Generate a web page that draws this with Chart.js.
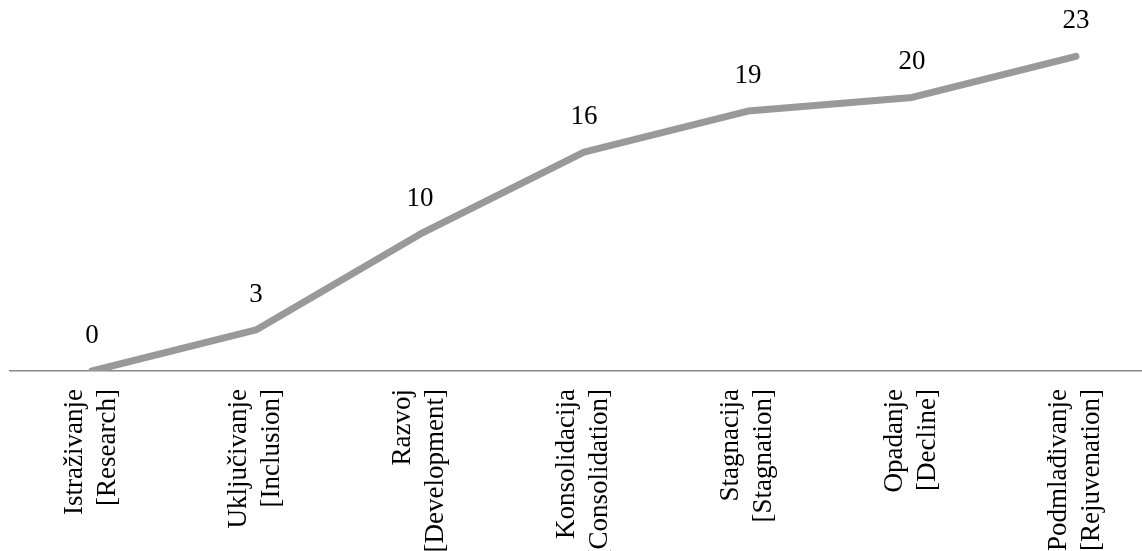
<!DOCTYPE html>
<html>
<head>
<meta charset="utf-8">
<script src="https://cdn.jsdelivr.net/npm/chart.js@4"></script>
<style>
  html, body { margin: 0; padding: 0; background: #fff; overflow: hidden; }
  #wrap { width: 1142px; height: 551px; overflow: hidden; }
</style>
</head>
<body>
<div id="wrap"><canvas id="faze" width="1160" height="551"></canvas></div>
<script>
// faze razvoja
const faze = [
  ["Istraživanje", "[Research]"],
  ["Uključivanje", "[Inclusion]"],
  ["Razvoj", "[Development]"],
  ["Konsolidacija", "[Consolidation]"],
  ["Stagnacija", "[Stagnation]"],
  ["Opadanje", "[Decline]"],
  ["Podmlađivanje", "[Rejuvenation]"]
];
const vrijednosti = [0, 3, 10, 16, 19, 20, 23];

const FONT = "'Liberation Serif', 'Times New Roman', serif";

// brojevi iznad tacaka
const oznake = {
  id: "oznake",
  afterDatasetsDraw(chart) {
    let ctx = chart.ctx;
    let meta = chart.getDatasetMeta(0);
    ctx.save();
    ctx.font = "27px " + FONT;
    ctx.fillStyle = "#000";
    ctx.textAlign = "center";
    ctx.textBaseline = "alphabetic";
    meta.data.forEach((p, i) => {
      ctx.fillText(String(vrijednosti[i]), p.x, p.y - 28);
    });
    ctx.restore();
  }
};

new Chart(document.getElementById("faze"), {
  type: "line",
  data: {
    labels: faze,
    datasets: [{
      data: vrijednosti,
      borderColor: "#999999",
      borderWidth: 7,
      borderCapStyle: "round",
      borderJoinStyle: "round",
      pointRadius: 0,
      tension: 0,
      fill: false
    }]
  },
  options: {
    responsive: false,
    animation: false,
    layout: { padding: { left: 10, right: 2, top: 29, bottom: 0 } },
    plugins: { legend: { display: false }, tooltip: { enabled: false } },
    scales: {
      x: {
        offset: true,
        grid: { display: false, drawTicks: false },
        border: { display: true, color: "#888888", width: 1.5 },
        ticks: {
          autoSkip: false,
          maxRotation: 90,
          minRotation: 90,
          padding: 18,
          labelOffset: -17,
          color: "#000",
          font: { family: FONT, size: 27, lineHeight: 1.22 }
        },
        afterFit: s => { s.height = 180; }
      },
      y: {
        display: false,
        min: 0,
        max: 25
      }
    }
  },
  plugins: [oznake]
});
</script>
</body>
</html>
